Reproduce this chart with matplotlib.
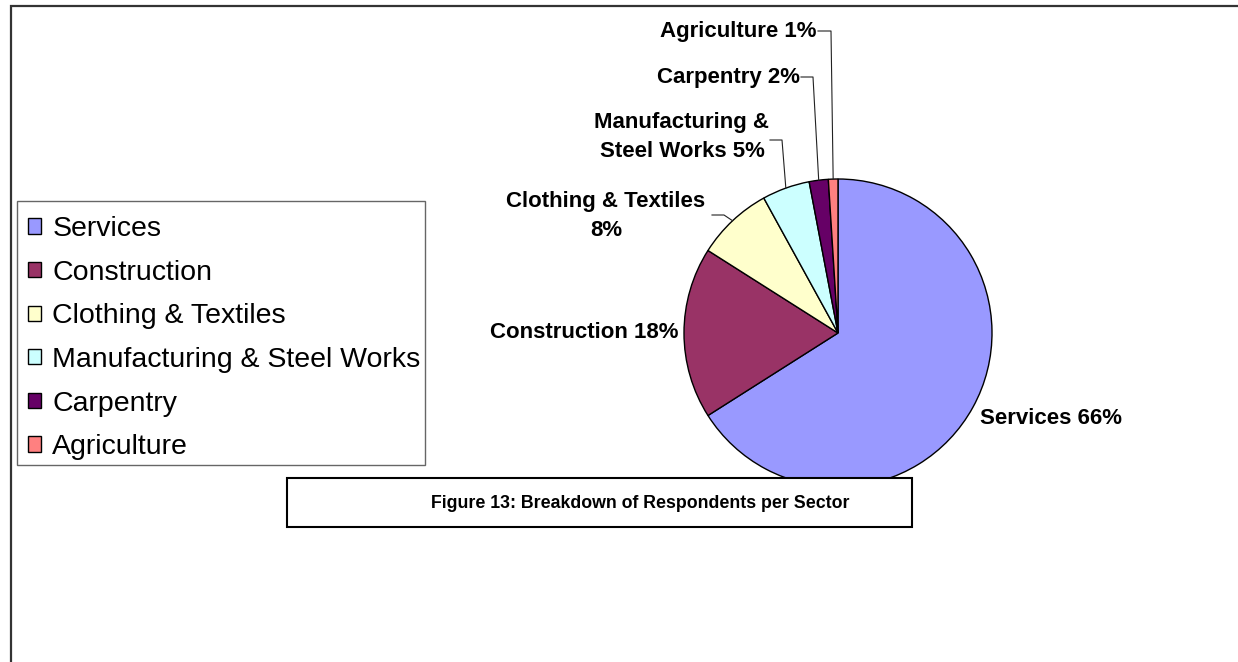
import numpy as np
import matplotlib
matplotlib.use("Agg")
import matplotlib.pyplot as plt
from matplotlib.patches import Rectangle
from matplotlib.lines import Line2D

plt.rcParams['font.family'] = ['Liberation Sans', 'DejaVu Sans']

# Respondents per sector (percent)
sectors = ['Services', 'Construction', 'Clothing & Textiles',
           'Manufacturing & Steel Works', 'Carpentry', 'Agriculture']
shares = [66, 18, 8, 5, 2, 1]
colors = ['#9999FF', '#993366', '#FFFFCC', '#CCFFFF', '#660066', '#FF8080']
pie_labels = ['Services 66%', 'Construction 18%', 'Clothing & Textiles\n8%',
              'Manufacturing &\nSteel Works 5%', 'Carpentry 2%', 'Agriculture 1%']
caption = 'Figure 13: Breakdown of Respondents per Sector'

W, H = 1238, 662
fig = plt.figure(figsize=(W / 100, H / 100), dpi=100)
ax = fig.add_axes([0, 0, 1, 1])


def Y(y):
    # work in pixel units measured from the top edge
    return H - y


cx, cy, r = 838, Y(333), 154
wedges, _ = ax.pie(shares, colors=colors, startangle=90, counterclock=False,
                   center=(cx, cy), radius=r,
                   wedgeprops=dict(edgecolor='black', linewidth=1.0))
ax.set_xlim(0, W)
ax.set_ylim(0, H)
ax.set_aspect('equal')
ax.axis('off')


def edge_point(w):
    mid = np.deg2rad((w.theta1 + w.theta2) / 2)
    return cx + r * np.cos(mid), cy + r * np.sin(mid)


lbl = dict(fontsize=16, fontweight='bold', color='black', va='center')

# labels without leaders
ax.text(980, Y(418), pie_labels[0], ha='left', **lbl)
ax.text(678, Y(333), pie_labels[1], ha='right', **lbl)

# labels with leader lines: (text x, text y, align, elbow x, elbow y, line end x)
leaders = {
    2: (606, 216, 'center', 724, 215, 712),
    3: (682, 137, 'center', 782, 140, 770),
    4: (800, 77, 'right', 813, 77, 801),
    5: (817, 31, 'right', 831, 31, 818),
}
for i, (tx, ty, ha, ex, ey, lx) in leaders.items():
    px, py = edge_point(wedges[i])
    ax.add_line(Line2D([px, ex, lx], [py, Y(ey), Y(ey)], color='#222222', lw=0.8))
    ax.text(tx, Y(ty), pie_labels[i], ha=ha, linespacing=1.5, **lbl)

# caption box over the lower part of the pie
ax.add_patch(Rectangle((287, Y(527)), 912 - 287, 527 - 478, facecolor='white',
                       edgecolor='black', linewidth=1.5, zorder=5))
ax.text(640, Y(503), caption, ha='center', va='center', fontsize=12.8,
        fontweight='bold', zorder=6)

# outer chart border (left and top)
ax.add_line(Line2D([10.5, 10.5, W], [0, Y(5.5), Y(5.5)], color='#333333', lw=1.6,
                   solid_joinstyle='miter'))

# legend: frame drawn separately so the entries can sit freely inside it
ax.add_patch(Rectangle((17, Y(465)), 425 - 17, 465 - 201, facecolor='white',
                       edgecolor='#666666', linewidth=1.0, zorder=4))
leg = ax.legend(wedges, sectors, loc='upper left', bbox_to_anchor=(28, Y(216)),
                bbox_transform=ax.transData, borderaxespad=0, borderpad=0,
                fontsize=20.5, frameon=False, handlelength=0.45,
                handleheight=0.45, handletextpad=0.4, labelspacing=0.62)
leg.set_zorder(6)

fig.savefig('out.png', dpi=100)
